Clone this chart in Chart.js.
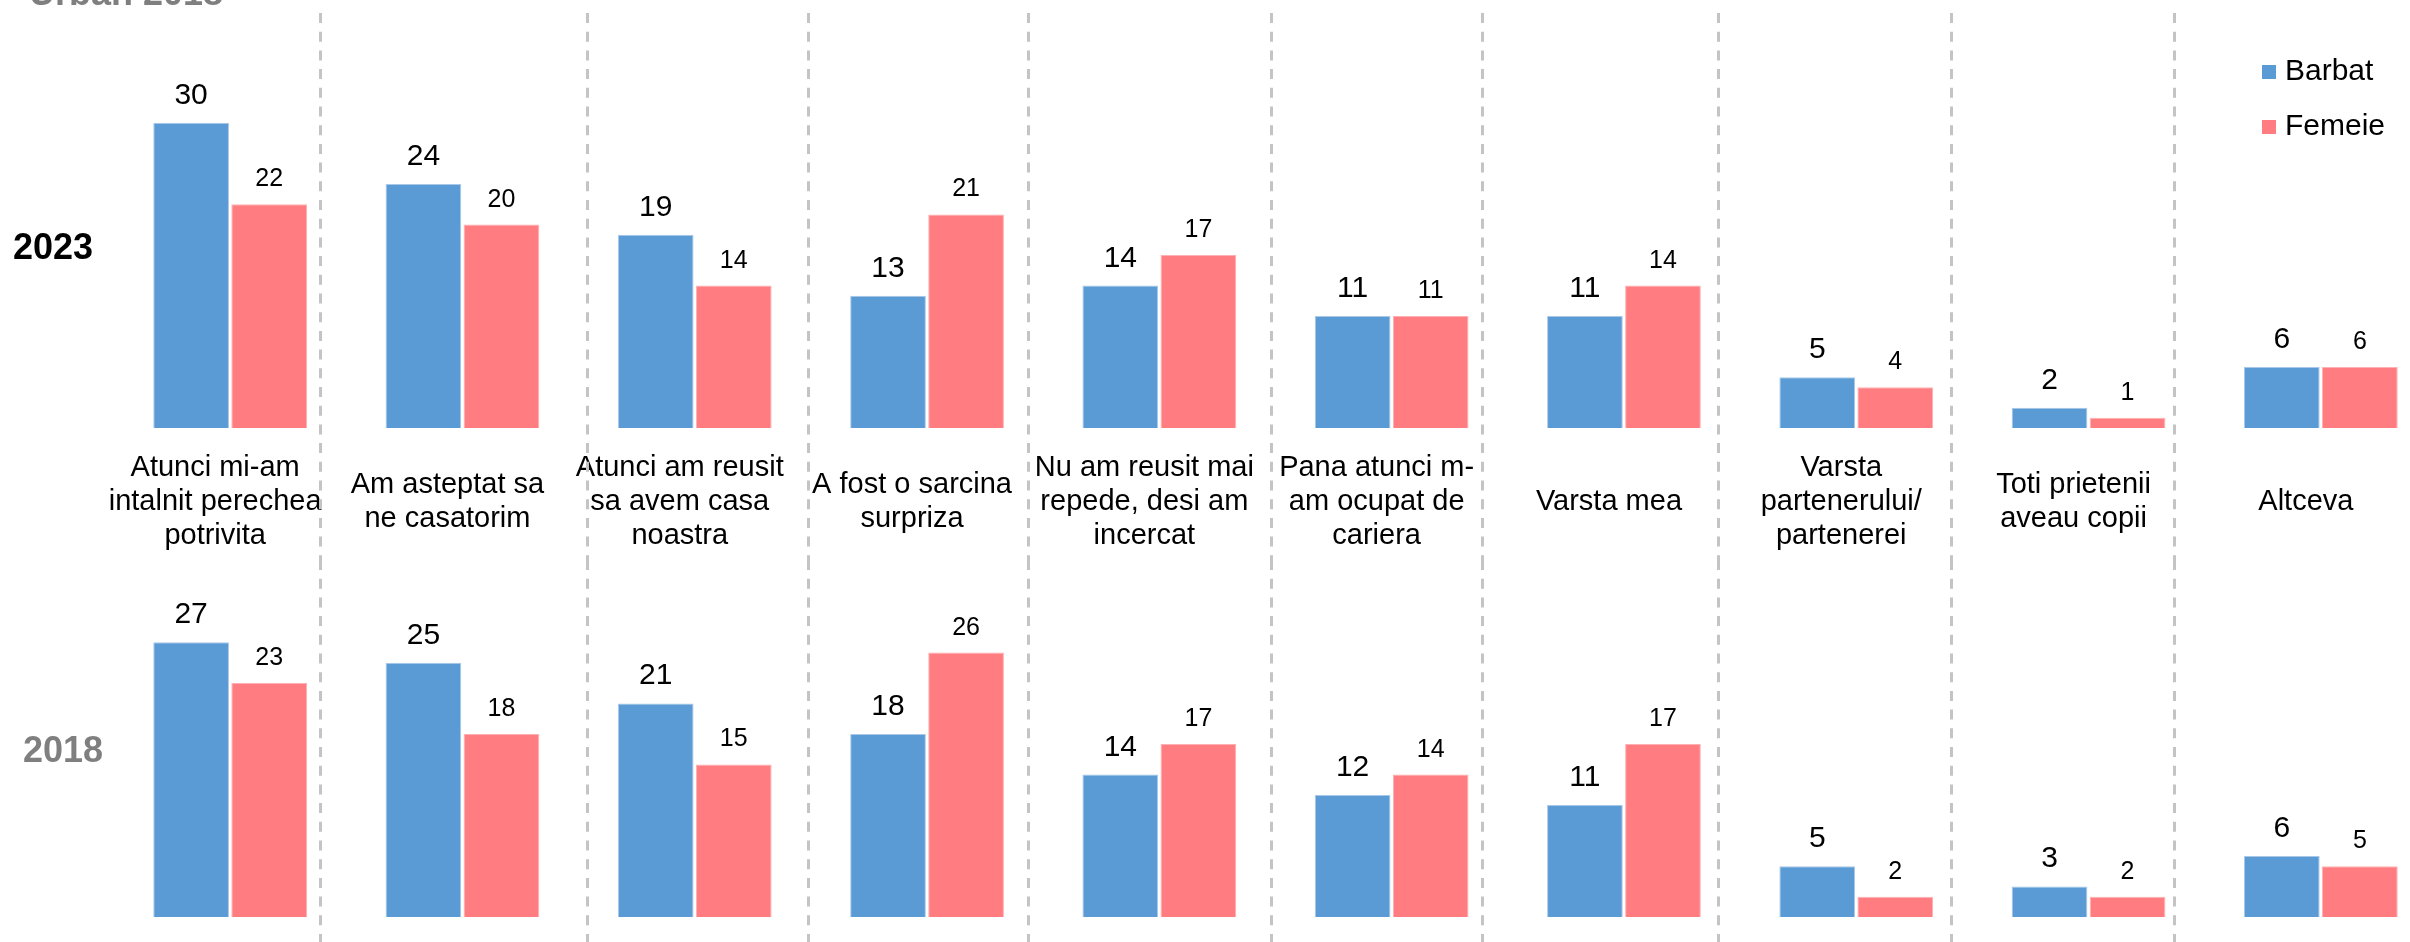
<!DOCTYPE html>
<html lang="ro">
<head>
<meta charset="UTF-8">
<title>Urban 2018</title>
<script src="https://cdn.jsdelivr.net/npm/chart.js"></script>
<style>
  html, body { margin: 0; padding: 0; background: #fff; overflow: hidden; }
  .wrap { position: relative; width: 2450px; height: 942px; }
  .panel { position: absolute; left: 0; width: 2450px; }
  #top { top: 0; height: 560px; }
  #bottom { top: 560px; height: 382px; }
</style>
</head>
<body>
<div class="wrap">
  <div class="panel" id="top"><canvas id="chart2023"></canvas></div>
  <div class="panel" id="bottom"><canvas id="chart2018"></canvas></div>
</div>
<script>
// date
const categories = [
    ['Atunci mi-am', 'intalnit perechea', 'potrivita'],
    ['Am asteptat sa', 'ne casatorim'],
    ['Atunci am reusit', 'sa avem casa', 'noastra'],
    ['A fost o sarcina', 'surpriza'],
    ['Nu am reusit mai', 'repede, desi am', 'incercat'],
    ['Pana atunci m-', 'am ocupat de', 'cariera'],
    ['Varsta mea'],
    ['Varsta', 'partenerului/', 'partenerei'],
    ['Toti prietenii', 'aveau copii'],
    ['Altceva']
];
const seriesNames = ['Barbat', 'Femeie'];
const barbat2023 = [30, 24, 19, 13, 14, 11, 11, 5, 2, 6];
const femeie2023 = [22, 20, 14, 21, 17, 11, 14, 4, 1, 6];
const barbat2018 = [27, 25, 21, 18, 14, 12, 11, 5, 3, 6];
const femeie2018 = [23, 18, 15, 26, 17, 14, 17, 2, 2, 5];
const titleText = 'Urban 2018';

// aspect
const FONT = '"Liberation Sans", Arial, sans-serif';
const colors = ['#5b9bd5', '#ff7c80'];
const borders = ['#a9c8e8', '#ffb0b2'];
const labelSizes = [30, 25];
const labelGaps = [19, 18];
// separatoarele punctate, in unitati de categorie
const sepOffsets = [0.385, 1.535, 2.488, 3.433, 4.479, 5.387, 6.403, 7.410, 8.366];

Chart.defaults.font.family = FONT;
Chart.defaults.color = '#000';

const decoPlugin = {
    id: 'deco',
    beforeDatasetsDraw(chart, args, opts) {
        const ctx = chart.ctx;
        const x = chart.scales.x;
        const x0 = x.getPixelForValue(0);
        const step = x.getPixelForValue(1) - x0;
        ctx.save();
        ctx.strokeStyle = '#c4c4c4';
        ctx.lineWidth = 3;
        ctx.setLineDash([10, 8.7]);
        sepOffsets.forEach(v => {
            const px = Math.round(x0 + v * step) + 0.5;
            ctx.beginPath();
            ctx.moveTo(px, opts.sepTop);
            ctx.lineTo(px, chart.height);
            ctx.stroke();
        });
        ctx.restore();
    },
    afterDatasetsDraw(chart, args, opts) {
        const ctx = chart.ctx;
        ctx.save();
        // etichete valori
        ctx.fillStyle = '#000';
        ctx.textAlign = 'center';
        ctx.textBaseline = 'alphabetic';
        chart.data.datasets.forEach((ds, i) => {
            ctx.font = labelSizes[i] + 'px ' + FONT;
            chart.getDatasetMeta(i).data.forEach((bar, j) => {
                ctx.fillText(ds.data[j], bar.x, bar.y - labelGaps[i]);
            });
        });
        // anul
        ctx.font = 'bold 36px ' + FONT;
        ctx.textAlign = 'left';
        ctx.textBaseline = 'middle';
        ctx.fillStyle = opts.yearColor;
        ctx.fillText(opts.year, opts.yearX, opts.yearY);
        // titlu (taiat sus)
        if (opts.title) {
            ctx.fillStyle = '#7f7f7f';
            ctx.textBaseline = 'alphabetic';
            ctx.fillText(opts.title, 29, 5);
        }
        // legenda
        if (opts.legend) {
            ctx.font = '30px ' + FONT;
            ctx.textBaseline = 'middle';
            chart.data.datasets.forEach((ds, i) => {
                const y = 72 + i * 55;
                ctx.fillStyle = ds.backgroundColor;
                ctx.fillRect(2262, y - 7, 14, 14);
                ctx.fillStyle = '#000';
                ctx.fillText(ds.label, 2285, y);
            });
        }
        ctx.restore();
    }
};

function makeDatasets(a, b) {
    return [a, b].map((d, i) => ({
        label: seriesNames[i],
        data: d,
        backgroundColor: colors[i],
        borderColor: borders[i],
        borderWidth: 1,
        categoryPercentage: 0.672,
        barPercentage: 0.97
    }));
}

new Chart(document.getElementById('chart2023'), {
    type: 'bar',
    data: { labels: categories, datasets: makeDatasets(barbat2023, femeie2023) },
    plugins: [decoPlugin],
    options: {
        responsive: true,
        maintainAspectRatio: false,
        animation: false,
        layout: { padding: { top: 72, left: 114, right: 13, bottom: 0 } },
        plugins: {
            legend: { display: false },
            tooltip: { enabled: false },
            deco: { sepTop: 13, year: '2023', yearColor: '#000', yearX: 13, yearY: 249, title: titleText, legend: true }
        },
        scales: {
            x: {
                grid: { display: false, drawTicks: false },
                border: { display: false },
                ticks: {
                    autoSkip: false, maxRotation: 0, minRotation: 0,
                    padding: 40, labelOffset: -15, crossAlign: 'center',
                    color: '#000', font: { size: 29, lineHeight: 34 / 29 }
                },
                afterFit(scale) { scale.height = 132; }
            },
            y: { display: false, min: 0, max: 35 }
        }
    }
});

new Chart(document.getElementById('chart2018'), {
    type: 'bar',
    data: { labels: categories, datasets: makeDatasets(barbat2018, femeie2018) },
    plugins: [decoPlugin],
    options: {
        responsive: true,
        maintainAspectRatio: false,
        animation: false,
        layout: { padding: { top: 1, left: 114, right: 13, bottom: 25 } },
        plugins: {
            legend: { display: false },
            tooltip: { enabled: false },
            deco: { sepTop: 0, year: '2018', yearColor: '#7f7f7f', yearX: 23, yearY: 192, legend: false }
        },
        scales: {
            x: { display: false },
            y: { display: false, min: 0, max: 35 }
        }
    }
});
</script>
</body>
</html>
